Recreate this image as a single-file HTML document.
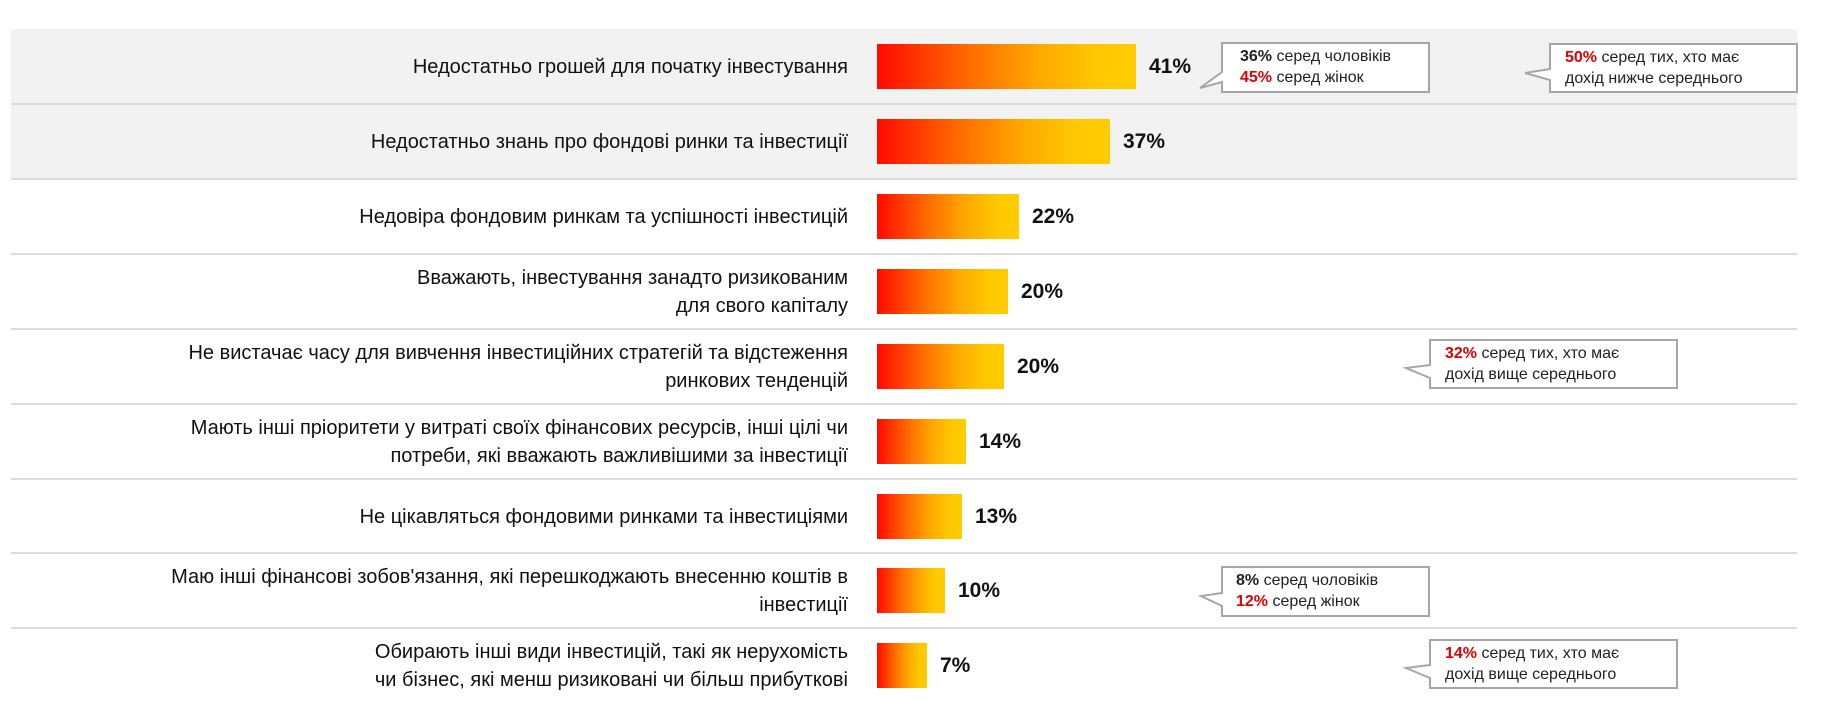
<!DOCTYPE html>
<html><head><meta charset="utf-8"><style>
body{margin:0;background:#fff;width:1823px;height:726px;position:relative;overflow:hidden;font-family:"Liberation Sans",Arial,sans-serif;}
.band{position:absolute;left:11px;top:29px;width:1786px;height:150px;background:#f2f2f2;}
.sep{position:absolute;left:11px;width:1786px;height:2px;background:#dcdcdc;}
.lab{position:absolute;right:975px;width:840px;text-align:right;font-size:20px;line-height:28px;color:#111;display:flex;align-items:center;justify-content:flex-end;height:75px;}
.bar{position:absolute;left:877px;height:45px;background:linear-gradient(90deg,#ff0a00 0%,#ff6a00 35%,#ffa800 62%,#ffc800 85%,#ffcc00 100%);}
.val{position:absolute;font-size:21px;font-weight:bold;color:#111;line-height:45px;}
.co{position:absolute;font-size:16px;line-height:21px;color:#222;}
.co b{font-weight:bold;}
.r{color:#e00000;}
</style></head><body>
<div class="band"></div>
<div class="sep" style="top:103px"></div>
<div class="sep" style="top:178px"></div>
<div class="sep" style="top:253px"></div>
<div class="sep" style="top:328px"></div>
<div class="sep" style="top:403px"></div>
<div class="sep" style="top:478px"></div>
<div class="sep" style="top:552px"></div>
<div class="sep" style="top:627px"></div>

<div class="lab" style="top:29px">Недостатньо грошей для початку інвестування</div>
<div class="lab" style="top:104px">Недостатньо знань про фондові ринки та інвестиції</div>
<div class="lab" style="top:179px">Недовіра фондовим ринкам та успішності інвестицій</div>
<div class="lab" style="top:254px"><span>Вважають, інвестування занадто ризикованим<br>для свого капіталу</span></div>
<div class="lab" style="top:329px"><span>Не вистачає часу для вивчення інвестиційних стратегій та відстеження<br>ринкових тенденцій</span></div>
<div class="lab" style="top:404px"><span>Мають інші пріоритети у витраті своїх фінансових ресурсів, інші цілі чи<br>потреби, які вважають важливішими за інвестиції</span></div>
<div class="lab" style="top:479px">Не цікавляться фондовими ринками та інвестиціями</div>
<div class="lab" style="top:553px"><span>Маю інші фінансові зобов'язання, які перешкоджають внесенню коштів в<br>інвестиції</span></div>
<div class="lab" style="top:628px"><span>Обирають інші види інвестицій, такі як нерухомість<br>чи бізнес, які менш ризиковані чи більш прибуткові</span></div>

<div class="bar" style="top:44px;width:259px"></div><div class="val" style="top:44px;left:1149px">41%</div>
<div class="bar" style="top:119px;width:233px"></div><div class="val" style="top:119px;left:1123px">37%</div>
<div class="bar" style="top:194px;width:142px"></div><div class="val" style="top:194px;left:1032px">22%</div>
<div class="bar" style="top:269px;width:131px"></div><div class="val" style="top:269px;left:1021px">20%</div>
<div class="bar" style="top:344px;width:127px"></div><div class="val" style="top:344px;left:1017px">20%</div>
<div class="bar" style="top:419px;width:89px"></div><div class="val" style="top:419px;left:979px">14%</div>
<div class="bar" style="top:494px;width:85px"></div><div class="val" style="top:494px;left:975px">13%</div>
<div class="bar" style="top:568px;width:68px"></div><div class="val" style="top:568px;left:958px">10%</div>
<div class="bar" style="top:643px;width:50px"></div><div class="val" style="top:643px;left:940px">7%</div>

<svg width="1823" height="726" style="position:absolute;left:0;top:0">
<g fill="#fff" stroke="#a6a6a6" stroke-width="2">
<polygon points="1222,43 1429,43 1429,92 1222,92 1222,82 1200,88 1222,72"/>
<polygon points="1550,44 1797,44 1797,92 1550,92 1550,80 1525,73 1550,69"/>
<polygon points="1430,340 1677,340 1677,388 1430,388 1430,378 1406,368 1430,365"/>
<polygon points="1222,567 1429,567 1429,616 1222,616 1222,606 1201,596 1222,593"/>
<polygon points="1430,640 1677,640 1677,688 1430,688 1430,678 1406,668 1430,665"/>
</g></svg>
<div class="co" style="left:1240px;top:46px"><b>36%</b> серед чоловіків<br><b class="r">45%</b> серед жінок</div>
<div class="co" style="left:1565px;top:47px"><b class="r">50%</b> серед тих, хто має<br>дохід нижче середнього</div>
<div class="co" style="left:1445px;top:343px"><b class="r">32%</b> серед тих, хто має<br>дохід вище середнього</div>
<div class="co" style="left:1236px;top:570px"><b>8%</b> серед чоловіків<br><b class="r">12%</b> серед жінок</div>
<div class="co" style="left:1445px;top:643px"><b class="r">14%</b> серед тих, хто має<br>дохід вище середнього</div>
</body></html>
